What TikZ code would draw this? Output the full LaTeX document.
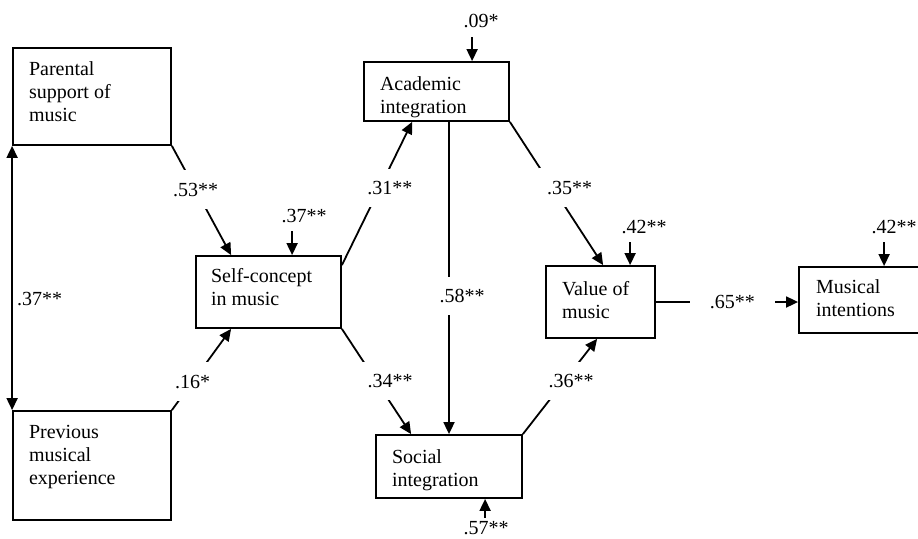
\documentclass[tikz,border=0pt]{standalone}
\usepackage{fontspec}
\setmainfont{Liberation Serif}
\usetikzlibrary{arrows.meta,calc}

\tikzset{every picture/.style={line width=1.8pt}}

\begin{document}
\begin{tikzpicture}[x=1pt,y=1pt,yscale=-1,xscale=1,
    box/.style={draw,rectangle,inner sep=0pt},
    boxtext/.style={anchor=north west,inner sep=0pt,align=left,font=\fontsize{20}{23}\selectfont},
    coef/.style={fill=white,inner xsep=8pt,inner ysep=12.5pt,font=\fontsize{20}{23}\selectfont},
    errlab/.style={inner sep=0pt,font=\fontsize{20}{23}\selectfont},
    arr/.style={-{Triangle[length=12pt,width=11pt]}},
    dbl/.style={{Triangle[length=12pt,width=11pt]}-{Triangle[length=12pt,width=11pt]}}]
        \useasboundingbox (0,0) rectangle (918,538);
        \clip (0,0) rectangle (918,538);
        %Shape: Rectangle [id:par]
        \node [box,minimum width=158pt,minimum height=97pt] (par) at (92,96.5) {};
        %Shape: Rectangle [id:prev]
        \node [box,minimum width=158pt,minimum height=109pt] (prev) at (92,465.5) {};
        %Shape: Rectangle [id:self]
        \node [box,minimum width=145pt,minimum height=72pt] (self) at (268.5,292) {};
        %Shape: Rectangle [id:acad]
        \node [box,minimum width=145pt,minimum height=59pt] (acad) at (436.5,91.5) {};
        %Shape: Rectangle [id:soc]
        \node [box,minimum width=146pt,minimum height=63pt] (soc) at (449,466.5) {};
        %Shape: Rectangle [id:val]
        \node [box,minimum width=109pt,minimum height=72pt] (val) at (600.5,302) {};
        %Shape: Rectangle [id:mus]
        \node [box,minimum width=134pt,minimum height=66pt] (mus) at (866,300) {};
        % Text Node
        \node [boxtext] (partxt) at ($(par.north west)+(16,14)$) {Parental\\support of\\music};
        % Text Node
        \node [boxtext] (prevtxt) at ($(prev.north west)+(16,14)$) {Previous\\musical\\experience};
        % Text Node
        \node [boxtext] (selftxt) at ($(self.north west)+(15,12)$) {Self-concept\\in music};
        % Text Node
        \node [boxtext] (acadtxt) at ($(acad.north west)+(16,15)$) {Academic\\integration};
        % Text Node
        \node [boxtext] (soctxt) at ($(soc.north west)+(16,15)$) {Social\\integration};
        % Text Node
        \node [boxtext] (valtxt) at ($(val.north west)+(16,15)$) {Value of\\music};
        % Text Node
        \node [boxtext] (mustxt) at ($(mus.north west)+(17,13)$) {Musical\\intentions};
        %Straight Lines [id:paths]
        \draw [dbl] (par.south west) -- node [pos=0.58,anchor=west,inner sep=0pt,xshift=4pt,font=\fontsize{20}{23}\selectfont] (lab37) {.37**} (prev.north west);
        \draw [arr] (par.south east) -- node [coef,pos=0.4] (lab53) {.53**} ($(self.north west)+(36,0)$);
        \draw [arr] (prev.north east) -- node [coef,pos=0.35] (lab16) {.16*} ($(self.south west)+(36,0)$);
        \draw [arr] ($(self.north east)+(0,10)$) -- node [coef,pos=0.54,xshift=10pt] (lab31) {.31**} ($(acad.south west)+(49,0)$);
        \draw [arr] (self.south east) -- node [coef,pos=0.495,xshift=14pt] (lab34) {.34**} ($(soc.north west)+(36,0)$);
        \draw [arr] (soc.north |- acad.south) -- node [coef,pos=0.557,xshift=13pt] (lab58) {.58**} (soc.north);
        \draw [arr] (acad.south east) -- node [coef,pos=0.459,xshift=17pt] (lab35) {.35**} ($(val.north west)+(58,0)$);
        \draw [arr] (soc.north east) -- node [coef,pos=0.557,xshift=7pt] (lab36) {.36**} ($(val.south west)+(52,0)$);
        \draw [arr] (val.east) -- node [coef,inner xsep=20pt,pos=0.538] (lab65) {.65**} (val.east -| mus.west);
        %Error terms
        \coordinate (eself) at ($(self.north west)+(97,-24)$);
        \coordinate (eacad) at ($(acad.north west)+(109,-24)$);
        \coordinate (eval) at ($(val.north west)+(85,-23)$);
        \coordinate (emus) at ($(mus.north west)+(86,-24)$);
        \coordinate (esoc) at ($(soc.south west)+(110,19)$);
        \draw [arr] (eself) -- (eself |- self.north);
        \draw [arr] (eacad) -- (eacad |- acad.north);
        \draw [arr] (eval) -- (eval |- val.north);
        \draw [arr] (emus) -- (emus |- mus.north);
        \draw [arr] (esoc) -- (esoc |- soc.south);
        % Text Node
        \node [errlab] (eselflab) at ($(eself)+(12,-15)$) {.37**};
        % Text Node
        \node [errlab] (eacadlab) at ($(eacad)+(9,-16)$) {.09*};
        % Text Node
        \node [errlab] (evallab) at ($(eval)+(14,-15)$) {.42**};
        % Text Node
        \node [errlab] (emuslab) at ($(emus)+(10,-15)$) {.42**};
        % Text Node
        \node [errlab] (esoclab) at ($(esoc)+(1,10)$) {.57**};
\end{tikzpicture}
\end{document}
